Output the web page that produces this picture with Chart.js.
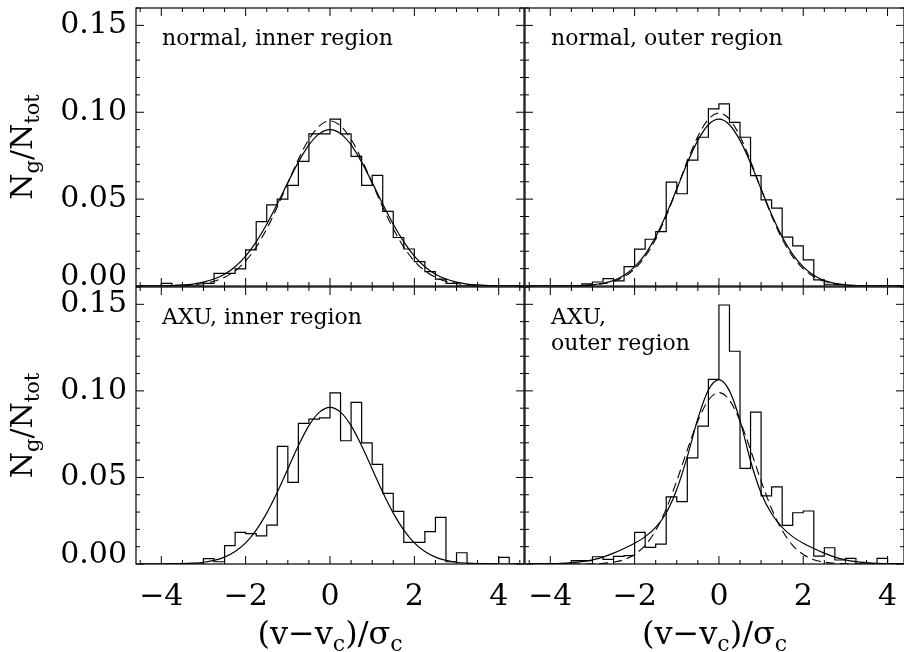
<!DOCTYPE html>
<html>
<head>
<meta charset="utf-8">
<script src="https://cdn.jsdelivr.net/npm/chart.js@4.4.1/dist/chart.umd.min.js"></script>
<style>
  body { margin: 0; background: #fff; }
  #wrap { position: relative; width: 904px; height: 652px; overflow: hidden; }
  #wrap canvas { position: absolute; left: 0; top: 0; }
</style>
</head>
<body>
<div id="wrap">
  <canvas id="normInner" width="904" height="652"></canvas>
  <canvas id="normOuter" width="904" height="652"></canvas>
  <canvas id="axuInner" width="904" height="652"></canvas>
  <canvas id="axuOuter" width="904" height="652"></canvas>
</div>
<script>
const binEdges = [-4.5, -4.25, -4, -3.75, -3.5, -3.25, -3, -2.75, -2.5, -2.25, -2, -1.75, -1.5, -1.25, -1, -0.75, -0.5, -0.25,
  0, 0.25, 0.5, 0.75, 1, 1.25, 1.5, 1.75, 2, 2.25, 2.5, 2.75, 3, 3.25, 3.5, 3.75, 4, 4.25, 4.5];

// N_g/N_tot in each bin (one value per bin, left edge = binEdges[i])
const normInnerHist = [0, 0, .0015, 0, 0, 0, .0015, .0073, .0073, .0098, .0208, .0371, .0467, .0500, .0579, .0717, .0875, .0875,
  .0960, .0875, .0746, .0579, .0637, .0429, .0279, .0213, .0140, .0083, .0040, .0015, 0, 0, 0, 0, 0, 0];
const normOuterHist = [0, 0, 0, 0, 0, .0012, .0023, .0042, .0030, .0112, .0212, .0269, .0313, .0598, .0531, .0725, .0856, .1019,
  .1048, .0942, .0856, .0635, .0496, .0448, .0281, .0231, .0150, .0035, .0010, .0008, 0, 0, 0, 0, 0, 0];
const axuInnerHist = [0, 0, 0, 0, 0, 0, .0031, .0013, .0106, .0183, .0175, .0163, .0225, .0680, .0471, .0812, .0837, .0844,
  .0988, .0712, .0933, .0700, .0575, .0408, .0304, .0125, .0125, .0187, .0269, .0013, .0065, 0, 0, 0, .0038, 0];
const axuOuterHist = [0, 0, 0, 0, .0019, .0019, .0042, .0027, .0044, .0048, .0183, .0096, .0115, .0388, .0360, .0613, .0796, .1067,
  .1496, .1229, .0552, .0877, .0394, .0446, .0223, .0296, .0306, .0046, .0094, .0023, .0033, 0, 0, .0033, 0, 0];

// fitted curves (solid) and dashed curves, read at binEdges
const normInnerFit = [0, 0, .0001, .0003, .0006, .0011, .0022, .0040, .0068, .0111, .0172, .0254, .0355, .0472, .0595, .0713, .0812, .0877,
  .0900, .0877, .0812, .0713, .0595, .0472, .0355, .0254, .0172, .0111, .0068, .0040, .0022, .0011, .0006, .0003, .0001, 0, 0];
const normInnerDash = [0, 0, 0, .0001, .0003, .0007, .0014, .0027, .0050, .0087, .0144, .0224, .0329, .0455, .0593, .0729, .0844, .0922,
  .0950, .0922, .0844, .0729, .0593, .0455, .0329, .0224, .0144, .0087, .0050, .0027, .0014, .0007, .0003, .0001, 0, 0, 0];
const normOuterFit = [0, 0, 0, 0, .0001, .0003, .0007, .0016, .0032, .0062, .0110, .0182, .0283, .0411, .0558, .0708, .0838, .0928,
  .0960, .0928, .0838, .0708, .0558, .0411, .0283, .0182, .0110, .0062, .0032, .0016, .0007, .0003, .0001, 0, 0, 0, 0];
const normOuterDash = [0, 0, 0, 0, .0001, .0002, .0005, .0013, .0027, .0053, .0099, .0169, .0271, .0403, .0558, .0719, .0861, .0960,
  .0995, .0960, .0861, .0719, .0558, .0403, .0271, .0169, .0099, .0053, .0027, .0013, .0005, .0002, .0001, 0, 0, 0, 0];
const axuInnerFit = [0, 0, 0, .0001, .0002, .0005, .0010, .0021, .0040, .0072, .0122, .0196, .0294, .0414, .0549, .0683, .0799, .0877,
  .0905, .0877, .0799, .0683, .0549, .0414, .0294, .0196, .0122, .0072, .0040, .0021, .0010, .0005, .0002, .0001, 0, 0, 0];
const axuOuterFit = [0, .0001, .0002, .0004, .0008, .0014, .0024, .0040, .0063, .0090, .0120, .0158, .0212, .0295, .0430, .0620, .0840, .1005,
  .1065, .1000, .0830, .0595, .0410, .0290, .0212, .0158, .0120, .0090, .0063, .0040, .0024, .0014, .0008, .0004, .0002, .0001, 0];
const axuOuterDash = [0, 0, 0, 0, 0, 0, .0001, .0004, .0011, .0025, .0055, .0108, .0194, .0319, .0480, .0659, .0826, .0946,
  .0990, .0946, .0826, .0659, .0480, .0319, .0194, .0108, .0055, .0025, .0011, .0004, .0001, 0, 0, 0, 0, 0, 0];

const xTicks = [-4, -2, 0, 2, 4];
const yTicks = [0, 0.05, 0.10, 0.15];

const SERIF = '"DejaVu Serif", serif';

const panels = [
  { id: 'normInner', hist: normInnerHist, fit: normInnerFit, dash: normInnerDash, xMax: 4.6,
    box: { l: 136, t: 8, r: 524, b: 286 }, left: true, bottom: false, text: ['normal, inner region'] },
  { id: 'normOuter', hist: normOuterHist, fit: normOuterFit, dash: normOuterDash, xMax: 4.39,
    box: { l: 525, t: 8, r: 904, b: 286 }, left: false, bottom: false, text: ['normal, outer region'] },
  { id: 'axuInner', hist: axuInnerHist, fit: axuInnerFit, dash: null, xMax: 4.6,
    box: { l: 136, t: 287, r: 524, b: 564 }, left: true, bottom: true, text: ['AXU, inner region'] },
  { id: 'axuOuter', hist: axuOuterHist, fit: axuOuterFit, dash: axuOuterDash, xMax: 4.39,
    box: { l: 525, t: 287, r: 904, b: 564 }, left: false, bottom: true, text: ['AXU,', 'outer region'] }
];

// draws a run of text pieces (with subscripts) centred on x = 0 of the current transform
function drawPieces(ctx, pieces) {
  let w = 0;
  pieces.forEach(p => { ctx.font = p.size + 'px ' + SERIF; p.w = ctx.measureText(p.t).width; w += p.w; });
  let x = -w / 2;
  pieces.forEach(p => {
    ctx.font = p.size + 'px ' + SERIF;
    ctx.fillText(p.t, x, p.dy || 0);
    x += p.w;
  });
}

function makeDecor(p) {
  return {
    id: 'panelDecor',
    afterDraw(chart) {
      const { ctx, chartArea: a, scales: { x, y } } = chart;
      ctx.save();
      ctx.strokeStyle = '#000';
      ctx.fillStyle = '#000';

      // frame
      ctx.lineWidth = 1.2;
      ctx.strokeRect(a.left, a.top, a.right - a.left, a.bottom - a.top);

      // inward tick marks on all four sides
      ctx.lineWidth = 1;
      ctx.beginPath();
      for (let v = -4.5; v <= 4.5; v += 0.5) {
        if (v < x.min || v > x.max) continue;
        const px = x.getPixelForValue(v);
        const len = Math.abs(v % 2) < 1e-9 ? 8 : 4;
        ctx.moveTo(px, a.bottom); ctx.lineTo(px, a.bottom - len);
        ctx.moveTo(px, a.top); ctx.lineTo(px, a.top + len);
      }
      for (let k = 0; k <= 16; k++) {
        const py = y.getPixelForValue(k / 100);
        const len = k % 5 === 0 ? 8 : 4;
        ctx.moveTo(a.left, py); ctx.lineTo(a.left + len, py);
        ctx.moveTo(a.right, py); ctx.lineTo(a.right - len, py);
      }
      ctx.stroke();

      // panel label
      ctx.textAlign = 'left';
      ctx.textBaseline = 'alphabetic';
      ctx.font = '22px ' + SERIF;
      p.text.forEach((t, i) => ctx.fillText(t, a.left + 26, a.top + 37 + i * 26));

      // y axis title N_g/N_tot
      if (p.left) {
        ctx.save();
        ctx.translate(32, (a.top + a.bottom) / 2);
        ctx.rotate(-Math.PI / 2);
        drawPieces(ctx, [
          { t: 'N', size: 30 }, { t: 'g', size: 21, dy: 7 }, { t: '/', size: 30 },
          { t: 'N', size: 30 }, { t: 'tot', size: 21, dy: 7 }
        ]);
        ctx.restore();
      }

      // x axis title (v-v_c)/sigma_c
      if (p.bottom) {
        ctx.save();
        ctx.translate((a.left + a.right) / 2, 644);
        drawPieces(ctx, [
          { t: '(', size: 32 }, { t: 'v', size: 32 }, { t: '\u2212', size: 32 }, { t: 'v', size: 32 },
          { t: 'c', size: 22, dy: 7 }, { t: ')', size: 32 }, { t: '/', size: 32 }, { t: '\u03c3', size: 32 },
          { t: 'c', size: 22, dy: 7 }
        ]);
        ctx.restore();
      }
      ctx.restore();
    }
  };
}

panels.forEach(p => {
  const histData = binEdges.map((x, i) => ({ x, y: i < p.hist.length ? p.hist[i] : 0 }));
  const curve = arr => binEdges.map((x, i) => ({ x, y: arr[i] }));

  const datasets = [
    { data: histData, stepped: true, borderColor: '#000', borderWidth: 1.2, pointRadius: 0, fill: false },
    { data: curve(p.fit), borderColor: '#000', borderWidth: 1.2, pointRadius: 0, fill: false, cubicInterpolationMode: 'monotone' }
  ];
  if (p.dash) {
    datasets.push({ data: curve(p.dash), borderColor: '#000', borderWidth: 1.1, borderDash: [9, 5], pointRadius: 0,
      fill: false, cubicInterpolationMode: 'monotone' });
  }

  new Chart(document.getElementById(p.id), {
    type: 'line',
    data: { datasets },
    options: {
      responsive: false,
      animation: false,
      devicePixelRatio: 1,
      layout: {
        padding: {
          left: p.left ? 0 : p.box.l,
          right: 904 - p.box.r,
          top: p.box.t,
          bottom: p.bottom ? 0 : 652 - p.box.b
        }
      },
      plugins: { legend: { display: false }, tooltip: { enabled: false } },
      scales: {
        x: {
          type: 'linear', min: -4.6, max: p.xMax, display: p.bottom,
          grid: { display: false, drawTicks: false }, border: { display: false },
          afterBuildTicks: s => { s.ticks = xTicks.map(v => ({ value: v })); },
          afterFit: s => {
            s.height = p.bottom ? 652 - p.box.b : 0;
            s.paddingLeft = 0; s.paddingRight = 0;
          },
          ticks: {
            font: { family: SERIF, size: 30 }, color: '#000', padding: 15, maxRotation: 0, autoSkip: false,
            callback: v => v < 0 ? '\u2212' + (-v) : String(v)
          }
        },
        y: {
          type: 'linear', min: 0, max: 0.16, display: p.left,
          grid: { display: false, drawTicks: false }, border: { display: false },
          afterBuildTicks: s => { s.ticks = yTicks.map(v => ({ value: v })); },
          afterFit: s => {
            s.width = p.left ? p.box.l : 0;
            // the panel box is fixed; label overhang must not shrink it
            s.paddingTop = 0; s.paddingBottom = 0;
          },
          ticks: {
            // short line height + empty 2nd line lifts "0.00" above the x axis, as in the original
            font: { family: SERIF, size: 30, lineHeight: 0.6 }, color: '#000', padding: 9,
            callback: v => v === 0 ? ['0.00', ''] : v.toFixed(2)
          }
        }
      }
    },
    plugins: [makeDecor(p)]
  });
});
</script>
</body>
</html>
